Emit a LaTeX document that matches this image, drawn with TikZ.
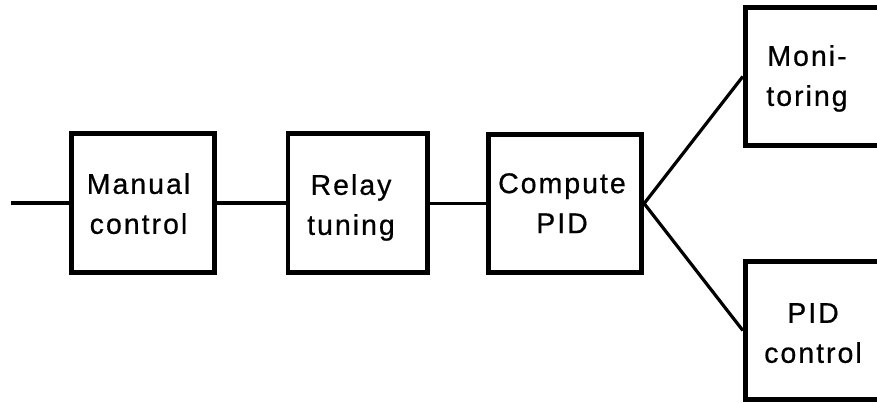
\documentclass[tikz,border=0pt]{standalone}
\usepackage{fontspec}
\setmainfont{Liberation Sans}
\newfontfamily\labfont[LetterSpace=7,FakeBold=0.6]{Liberation Sans}
\begin{document}
\begin{tikzpicture}[x=1pt,y=1pt,
  blk/.style={draw=black, line width=4.8pt, rectangle, inner sep=0pt},
  lab/.style={anchor=north, inner sep=0pt, align=center,
    font=\fontsize{28.5}{40}\selectfont\labfont},
  conn/.style={draw=black, line width=3.2pt}]
\clip (0,0) rectangle (877,403);
\fill[white] (0,0) rectangle (877,403);
\node[blk, minimum width=143.5pt, minimum height=139.5pt] (mc) at (143,200) {};
\node[blk, minimum width=139.75pt, minimum height=139pt] (rt) at (357.9,199.75) {};
\node[blk, minimum width=153.5pt, minimum height=138.5pt] (cp) at (565,199.5) {};
\node[blk, minimum width=144.75pt, minimum height=138.5pt] (mo) at (817.6,326.5) {};
\node[blk, minimum width=144.75pt, minimum height=138.5pt] (pc) at (817.6,72.5) {};
\node[lab] (mct) at (138.5,230) {Manual\\control};
\node[lab] (rtt) at (351,229) {Relay\\tuning};
\node[lab] (cpt) at (562,230) {Compute\\PID};
\node[lab] (mot) at (807,358) {Moni-\\toring};
\node[lab] (pct) at (813,100) {PID\\control};
\coordinate (in) at (11,200);
\draw[conn] (in) -- (mc.west);
\draw[conn] (mc.east) -- (rt.west |- mc.east);
\draw[conn] (rt.east) -- (cp.west |- rt.east);
\draw[conn] (cp.east) -- (mo.west);
\draw[conn] (cp.east) -- (pc.west);
\end{tikzpicture}
\end{document}
